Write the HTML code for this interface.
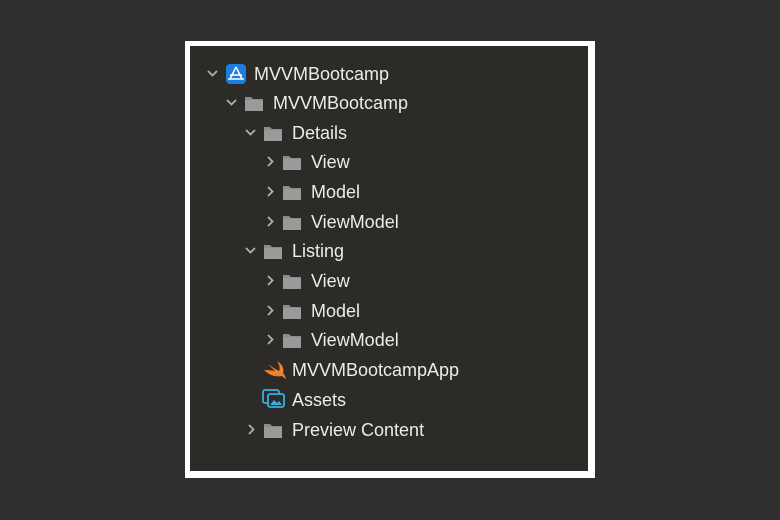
<!DOCTYPE html>
<html><head><style>
body{margin:0;width:780px;height:520px;background:#2f2f2f;position:relative;font-family:"Liberation Sans",sans-serif;overflow:hidden}
.frame{position:absolute;left:185px;top:41px;width:410px;height:437px;background:#fff}
.inner{position:absolute;left:190px;top:46px;width:398px;height:425px;background:#2c2b27}
.r{position:absolute;height:20px;color:#ececec;font-size:18px;line-height:20px;white-space:nowrap}
svg{position:absolute}
</style></head><body>
<div class="frame"></div><div class="inner"></div>
<svg width="780" height="520" style="left:0;top:0">
<defs>
<g id="f"><path d="M0 3 h6 l2 2 h10 v12 h-18z" fill="#8c8c8c"/><rect x="0" y="6" width="18" height="11" fill="#9a9a9a"/></g>
<path id="cd" d="M0 0 l4.5 4.5 l4.5 -4.5" stroke="#b0b0b0" stroke-width="1.8" fill="none"/>
<path id="cr" d="M0 0 l4.5 4.5 l-4.5 4.5" stroke="#b0b0b0" stroke-width="1.8" fill="none"/>
</defs>
<use href="#cd" x="208" y="71"/>
<rect x="226" y="64" width="20" height="20" rx="4" fill="#1b7ee0"/>
<path d="M236 67 l-6 12 M236 67 l6 12 M230 75 h12 M228 79 h16" stroke="#fff" stroke-width="1.5" fill="none"/>
<use href="#cd" x="227" y="100"/><use href="#f" x="245" y="94"/>
<use href="#cd" x="246" y="130"/><use href="#f" x="264" y="124"/>
<use href="#cr" x="268" y="157"/><use href="#f" x="283" y="153"/>
<use href="#cr" x="268" y="187"/><use href="#f" x="283" y="183"/>
<use href="#cr" x="268" y="217"/><use href="#f" x="283" y="213"/>
<use href="#cd" x="246" y="248"/><use href="#f" x="264" y="242"/>
<use href="#cr" x="268" y="276"/><use href="#f" x="283" y="272"/>
<use href="#cr" x="268" y="306"/><use href="#f" x="283" y="302"/>
<use href="#cr" x="268" y="335"/><use href="#f" x="283" y="331"/>
<path d="M264 370 Q272 378 282 376 Q284 378 286 379 Q285 375 283 373 Q285 366 277 361 Q281 367 279 371 Q273 368 268 364 Q272 368 275 371 Q270 370 264 370Z" fill="#f0822a"/>
<rect x="263" y="390" width="16" height="13" rx="2" fill="none" stroke="#3ab0de" stroke-width="1.8"/>
<rect x="268" y="394" width="16" height="13" rx="2" fill="#2c2b27" stroke="#3ab0de" stroke-width="1.8"/>
<path d="M270 405 l4 -5 l3 3 l2 -2 l3 4z" fill="#3ab0de"/>
<use href="#cr" x="249" y="425"/><use href="#f" x="264" y="421"/>
</svg>
<div class="r" style="left:254px;top:64px">MVVMBootcamp</div>
<div class="r" style="left:273px;top:93px">MVVMBootcamp</div>
<div class="r" style="left:292px;top:123px">Details</div>
<div class="r" style="left:311px;top:152px">View</div>
<div class="r" style="left:311px;top:182px">Model</div>
<div class="r" style="left:311px;top:212px">ViewModel</div>
<div class="r" style="left:292px;top:241px">Listing</div>
<div class="r" style="left:311px;top:271px">View</div>
<div class="r" style="left:311px;top:301px">Model</div>
<div class="r" style="left:311px;top:330px">ViewModel</div>
<div class="r" style="left:292px;top:360px">MVVMBootcampApp</div>
<div class="r" style="left:292px;top:390px">Assets</div>
<div class="r" style="left:292px;top:420px">Preview Content</div>
</body></html>
